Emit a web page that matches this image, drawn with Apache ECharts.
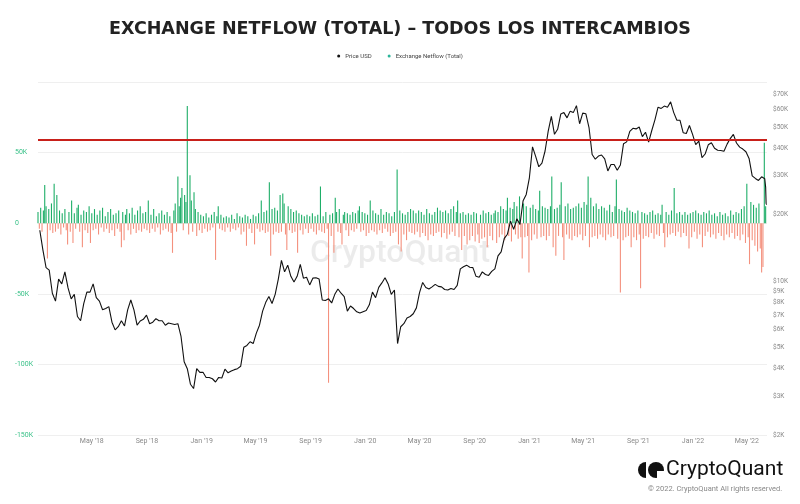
<!DOCTYPE html>
<html><head><meta charset="utf-8">
<script src="https://cdn.jsdelivr.net/npm/echarts@6/dist/echarts.min.js"></script>
<style>html,body{margin:0;padding:0;background:#fff}#c{width:800px;height:504px}</style>
</head><body><div id="c"></div>
<script>
const titleText = 'EXCHANGE NETFLOW (TOTAL) – TODOS LOS INTERCAMBIOS';
const seriesNames = ['Price USD', 'Exchange Netflow (Total)'];
const xTickDates = ['2018-05-01','2018-09-01','2019-01-01','2019-05-01','2019-09-01','2020-01-01','2020-05-01','2020-09-01','2021-01-01','2021-05-01','2021-09-01','2022-01-01','2022-05-01'];
const monthNames = ['Jan','Feb','Mar','Apr','May','Jun','Jul','Aug','Sep','Oct','Nov','Dec'];
const priceTicks = [2000,3000,4000,5000,6000,7000,8000,9000,10000,20000,30000,40000,50000,60000,70000];
const xRange = ['2018-01-01','2022-06-15'];

// Price USD, weekly from 2018-01-05
const priceStart = '2018-01-05';
const priceStepDays = 7;
const priceUSD = [
17000,13800,11500,11200,8800,8100,10200,9700,11000,9300,
8300,8700,6900,6600,7900,8900,8900,9700,8400,8100,
7400,7500,7650,6500,6000,6200,6600,6250,7400,8200,
7400,6300,6580,6700,7000,6400,6500,6750,6600,6600,
6300,6450,6400,6350,6400,5600,4300,4000,3400,3250,
4000,3850,
3850,3650,3650,3600,3480,3650,3630,3980,3830,3900,
3960,4000,4100,5000,5100,5300,5200,5800,6300,7300,
8000,8500,7900,8700,10200,12400,11000,11800,10500,9900,
10500,11900,10300,10400,9600,10300,10350,10200,8200,8150,
8300,7950,8700,9200,8800,8500,7300,7700,7500,7250,
7150,7250,
7350,7800,8900,8400,9350,9800,10350,9700,8700,9100,
5200,6200,6400,6800,6900,7100,7550,8850,9850,9350,
9200,9400,9650,9450,9400,9150,9100,9250,9150,9550,
11350,11600,11800,11550,11500,10500,10400,11000,10700,10600,
11050,11350,13000,13550,15600,16300,18700,17150,19150,18050,
23150,24700,
29400,40600,36800,33000,34300,38900,47900,55900,46300,48800,
57200,58100,55000,59000,58100,62500,51700,57800,57400,49700,
37500,35700,36900,37300,35800,31600,33800,33800,31800,33600,
42000,42800,47800,49300,49000,50000,45200,47300,42700,48200,
53900,61500,60700,62200,61500,65000,58100,53600,53600,47100,
46700,50800,46300,
41600,43100,36300,37700,41500,42400,40000,39200,39100,38800,
41800,44300,46300,42300,40500,39700,38600,36000,30000,29200,
28600,29700,29100
];
const priceTailDates = ['2022-06-12','2022-06-13','2022-06-14'];
const priceTail = [26600,22500,22200];

// Exchange netflow (thousand BTC), every 3 days from 2018-01-01
const netflowStart = '2018-01-01';
const netflowStepDays = 3;
const netflowK = [
8,-4,11,-6,9,27,12,-25,10,-5,14,-7,28,-6,20,-4,9,-8,7,-3,
10,-5,-15,8,-6,16,-14,7,-4,11,13,-6,6,-17,9,-5,8,-7,12,-14,
7,-5,10,-4,6,-8,9,-3,11,-6,5,-4,8,-7,10,-5,6,-9,7,-4,
9,-6,-17,8,-12,6,10,-5,7,-8,11,-4,6,-7,9,-5,12,-6,7,-4,
8,-5,16,-7,6,-4,10,-6,5,-3,7,-8,9,-5,6,-4,8,-6,5,-7,
-21,9,14,-6,33,12,18,25,-5,20,15,83,-8,34,16,-6,22,10,-9,8,
-5,6,-7,5,-4,7,-6,4,-5,6,-3,8,-26,5,12,-4,6,-5,4,-6,
5,-3,4,-6,6,-4,3,-5,7,-3,5,-8,4,-6,6,-16,5,-4,3,-7,
6,-15,5,-4,7,-6,16,-5,8,-7,9,-6,29,-23,10,-8,11,-6,9,-7,
20,-6,21,14,-8,-19,12,-5,10,-7,8,-6,9,-21,7,-5,6,-8,5,-4,
6,-7,5,-4,7,-6,5,-8,6,-5,26,-6,5,-7,8,-4,-113,6,-9,7,
-21,18,8,-6,10,-7,-15,6,8,-5,7,-9,6,-5,8,-6,7,-4,9,12,
-6,8,-5,7,-9,6,-7,16,-5,9,-6,7,-8,6,-5,10,-7,6,-4,8,
-6,7,-9,5,-7,8,-6,38,-15,9,-20,7,-8,6,-12,8,-6,10,-7,9,
-8,7,-6,9,-10,8,-7,6,-9,10,-12,7,-8,6,-9,8,-7,11,-6,9,
-10,8,-7,9,-11,7,-8,10,-6,12,-9,8,16,-10,7,-19,8,-9,6,-15,
7,-12,6,-9,8,-13,7,-8,-14,6,-11,9,-10,7,-17,8,-9,6,-12,7,
9,-14,8,-10,12,-8,10,-12,9,18,-9,11,-13,10,15,-8,12,-11,19,-10,
-25,14,-10,12,-9,-35,11,-12,13,-8,10,-11,9,23,-10,12,-9,11,-12,10,
-9,12,33,-17,10,-23,11,-9,13,29,-10,-26,12,-8,14,-11,10,-12,11,-9,
12,-10,14,-8,11,-12,15,-9,13,33,-17,18,-10,12,-9,14,-11,10,-8,12,
-10,11,-12,9,-8,13,-10,8,-9,12,31,-11,10,-49,9,-12,8,-10,11,-9,
9,-17,8,-10,7,-12,9,-8,-46,8,-11,7,-9,6,-10,8,-7,9,-11,6,
-8,7,-9,6,13,-7,-17,8,-10,6,-8,9,-7,25,-9,7,-6,8,-10,6,
-7,8,-9,6,-18,7,-10,8,-6,9,-11,7,-8,6,-17,8,-9,7,-6,9,
-10,6,-8,7,-11,5,-7,8,-9,6,-12,7,-8,5,-10,9,-7,6,-11,8,
-9,7,-12,10,-8,12,-14,28,-10,-29,15,-12,13,-16,11,-20,14,-18,-35,-31,57,12
];
const resistanceLevel = 43600;

const DAY = 86400000;
const ts = s => Date.parse(s + 'T00:00:00Z');
const priceData = priceUSD.map((v, i) => [ts(priceStart) + i * priceStepDays * DAY, v])
  .concat(priceTailDates.map((d, i) => [ts(d), priceTail[i]]));
const netflowData = netflowK.map((v, i) => [ts(netflowStart) + i * netflowStepDays * DAY, v * 1000]);

const chart = echarts.init(document.getElementById('c'), null, {renderer: 'canvas'});
const FONT = 'Roboto, "Open Sans", sans-serif';
chart.setOption({
  animation: false,
  backgroundColor: '#fff',
  title: {
    text: titleText, left: 'center', top: 15,
    textStyle: {fontFamily: '"DejaVu Sans", sans-serif', fontWeight: 700, fontSize: 17.5, color: '#222'}
  },
  legend: {
    top: 48, left: 'center', itemGap: 16, itemWidth: 3, itemHeight: 3, icon: 'circle',
    textStyle: {fontSize: 6, color: '#444', fontFamily: FONT},
    data: [
      {name: seriesNames[0], itemStyle: {color: '#111'}},
      {name: seriesNames[1], itemStyle: {color: '#2bb59a'}}
    ]
  },
  grid: {left: 38, right: 33, top: 82, bottom: 69},
  xAxis: {
    type: 'value', min: ts(xRange[0]), max: ts(xRange[1]),
    axisLine: {show: false}, axisTick: {show: false}, splitLine: {show: false},
    axisLabel: {
      customValues: xTickDates.map(ts), margin: 3,
      color: '#8a8a8a', fontSize: 7, fontFamily: FONT,
      formatter: v => { const d = new Date(v); return monthNames[d.getUTCMonth()] + " '" + String(d.getUTCFullYear()).slice(2); }
    }
  },
  yAxis: [
    {
      type: 'value', min: -150000, max: 100000, interval: 50000, position: 'left',
      axisLine: {show: false}, axisTick: {show: false},
      splitLine: {lineStyle: {color: '#efefef', width: 1}},
      axisLabel: {
        showMaxLabel: false, align: 'left', margin: 23, color: '#3cc28a', fontSize: 7, fontFamily: FONT,
        formatter: v => v === 0 ? '0' : (v / 1000) + 'K'
      }
    },
    {
      type: 'log', logBase: 10, min: 2000, max: 80000, position: 'right',
      axisLine: {show: false}, axisTick: {show: false}, splitLine: {show: false},
      axisLabel: {
        customValues: priceTicks, align: 'left', margin: 6, color: '#8a8a8a', fontSize: 6.5, fontFamily: FONT,
        formatter: v => '$' + Math.round(v / 1000) + 'K'
      }
    }
  ],
  graphic: [
    {type: 'text', left: 'center', top: 238, z: 0, silent: true,
     style: {text: 'CryptoQuant', font: '500 32px Roboto, sans-serif', fill: 'rgba(0,0,0,0.08)'}},
    {type: 'sector', shape: {cx: 646, cy: 470, r: 8, r0: 0, startAngle: Math.PI / 2, endAngle: Math.PI * 3 / 2}, style: {fill: '#111'}},
    {type: 'circle', shape: {cx: 656, cy: 470, r: 8}, style: {fill: '#111'}},
    {type: 'rect', shape: {x: 657, y: 471, width: 8, height: 8}, style: {fill: '#fff'}},
    {type: 'text', x: 666, y: 459, style: {text: 'CryptoQuant', font: '400 21px Roboto, sans-serif', fill: '#111'}},
    {type: 'text', x: 648, y: 485, style: {text: '© 2022. CryptoQuant All rights reserved.', font: '7.5px Roboto, sans-serif', fill: '#888'}}
  ],
  series: [
    {
      name: seriesNames[1], type: 'bar', yAxisIndex: 0, data: netflowData, barWidth: 1.1, z: 2,
      itemStyle: {color: p => p.value[1] >= 0 ? '#1eae68' : '#f4917e'}
    },
    {
      name: seriesNames[0], type: 'line', yAxisIndex: 1, data: priceData, showSymbol: false, z: 3,
      lineStyle: {color: '#111', width: 1.1}, itemStyle: {color: '#111'},
      markLine: {
        silent: true, symbol: 'none', label: {show: false},
        lineStyle: {color: '#c8201a', width: 2, type: 'solid'},
        data: [{yAxis: resistanceLevel}]
      }
    }
  ]
});
</script></body></html>
